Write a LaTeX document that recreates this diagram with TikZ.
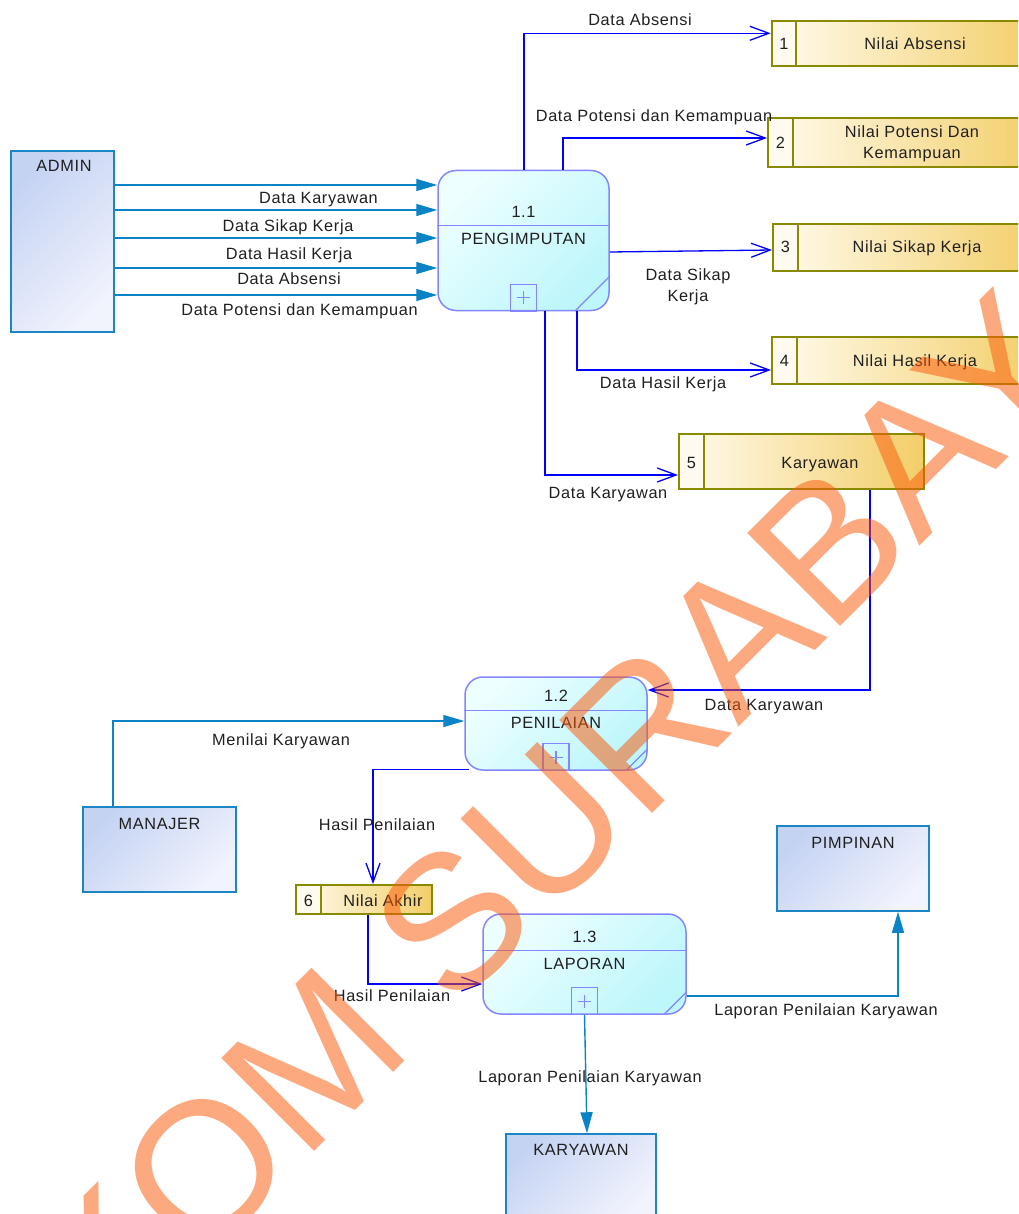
\documentclass[tikz,border=0pt]{standalone}
\usepackage{fontspec}
\setmainfont{Liberation Sans}
\newfontfamily\dfdfont[LetterSpace=4]{Liberation Sans}
\usetikzlibrary{arrows.meta,calc}

\definecolor{entline}{HTML}{1C86C4}
\definecolor{entA}{HTML}{C5D3F3}
\definecolor{entB}{HTML}{F1F3FD}
\definecolor{procline}{HTML}{8585FF}
\definecolor{procA}{HTML}{EEFFFF}
\definecolor{procB}{HTML}{BDF6FB}
\definecolor{storeline}{HTML}{8A8A00}
\definecolor{storeA}{HTML}{FFFBEE}
\definecolor{storeB}{HTML}{F3CE68}
\definecolor{storecell}{HTML}{FFFAF0}
\definecolor{extflow}{HTML}{0A84C6}
\definecolor{dataflow}{HTML}{0000FF}
\definecolor{stampcol}{RGB}{250,90,10}

\tikzset{
  entity/.style={draw=entline, line width=1.5pt, top color=entA, bottom color=entB,
    shading angle=45, inner sep=0pt},
  process/.style={draw=procline, line width=1.5pt, rounded corners=18pt,
    top color=procA, bottom color=procB, shading angle=45, inner sep=0pt},
  procin/.style={draw=procline, line width=1.3pt},
  store/.style={draw=storeline, line width=2pt, left color=storeA, right color=storeB,
    inner sep=0pt,
    path picture={
      \fill[storecell] (path picture bounding box.north west)
        rectangle ([xshift=#1]path picture bounding box.south west);
      \draw[storeline, line width=2pt] ([xshift=#1]path picture bounding box.north west)
        -- ([xshift=#1]path picture bounding box.south west);}},
  txt/.style={font=\dfdfont\fontsize{16.3}{21}\selectfont, text=black!88, inner sep=0pt,
    text height=11.5pt, text depth=3.5pt},
  txtml/.style={font=\dfdfont\fontsize{16.3}{21}\selectfont, text=black!88, inner sep=0pt,
    align=center},
  ext/.style={draw=extflow, line width=1.4pt, -{Triangle[length=21pt,width=12pt]}},
  flow/.style={draw=dataflow, line width=1.3pt, -{Straight Barb[length=19pt,width=14pt]}},
}

% divider, number, title, "+" box and corner cut of a process
\newcommand{\procdetails}[6]{%
  \draw[procin] ([yshift=-#2pt]#1.north west) -- ([yshift=-#2pt]#1.north east);
  \node[txt] (#1-num) at ([yshift=-#3pt]#1.north) {#4};
  \node[txt] (#1-title) at ([yshift=-#3pt-27pt]#1.north) {#5};
  \draw[procin] ([xshift=-13pt]#1.south) rectangle ([xshift=13pt,yshift=27pt]#1.south);
  \draw[procin] ([xshift=-6.5pt,yshift=13.5pt]#1.south) -- ([xshift=6.5pt,yshift=13.5pt]#1.south);
  \draw[procin] ([yshift=7pt]#1.south) -- ([yshift=20pt]#1.south);
  \draw[procin] ([xshift=-#6pt]#1.south east) -- ([yshift=#6pt]#1.south east);
}

\begin{document}
\begin{tikzpicture}[x=1pt,y=-1pt]
\useasboundingbox (0,0) rectangle (1018,1214);
\clip (0,0) rectangle (1018,1214);

% external entities
\node[entity, minimum width=103pt, minimum height=181pt] (admin) at (62.5,241.5) {};
\node[txt] (admin-t) at (64,168) {ADMIN};
\node[entity, minimum width=153pt, minimum height=85pt] (manajer) at (159.5,849.5) {};
\node[txt] (manajer-t) at (159.5,825) {MANAJER};
\node[entity, minimum width=152pt, minimum height=85pt] (pimpinan) at (853,868.5) {};
\node[txt] (pimpinan-t) at (853,844) {PIMPINAN};
\node[entity, minimum width=150pt, minimum height=86pt] (karyawan) at (581,1177) {};
\node[txt] (karyawan-t) at (581,1151) {KARYAWAN};

% processes
\node[process, minimum width=171pt, minimum height=140pt] (p11) at (523.5,240.5) {};
\procdetails{p11}{56}{43.5}{1.1}{PENGIMPUTAN}{35}
\node[process, minimum width=182pt, minimum height=93pt] (p12) at (556,723.5) {};
\procdetails{p12}{34}{21}{1.2}{PENILAIAN}{22}
\node[process, minimum width=203pt, minimum height=100pt] (p13) at (584.5,964) {};
\procdetails{p13}{37}{25}{1.3}{LAPORAN}{23}

% data stores
\node[store=24.3pt, minimum width=268.3pt, minimum height=45pt] (s1) at (905.85,43.5) {};
\node[txt] (s1-n) at (784,45.5) {1};
\node[txt] (s1-t) at (915,45.5) {Nilai Absensi};
\node[store=25pt, minimum width=272pt, minimum height=49pt] (s2) at (904,142.5) {};
\node[txt] (s2-n) at (780.5,144.5) {2};
\node[txtml] (s2-t) at (912,143.5) {Nilai Potensi Dan\\Kemampuan};
\node[store=25pt, minimum width=267pt, minimum height=47pt] (s3) at (906.5,247.5) {};
\node[txt] (s3-n) at (785.5,249) {3};
\node[txt] (s3-t) at (917,249) {Nilai Sikap Kerja};
\node[store=25pt, minimum width=268pt, minimum height=47pt] (s4) at (906,360.5) {};
\node[txt] (s4-n) at (784.5,362) {4};
\node[txt] (s4-t) at (915,362) {Nilai Hasil Kerja};
\node[store=25pt, minimum width=245pt, minimum height=55pt] (s5) at (801.5,461.5) {};
\node[txt] (s5-n) at (691.5,464) {5};
\node[txt] (s5-t) at (820,464) {Karyawan};
\node[store=25pt, minimum width=136pt, minimum height=29pt] (s6) at (364,899.5) {};
\node[txt] (s6-n) at (308.5,902) {6};
\node[txt] (s6-t) at (383,902) {Nilai Akhir};

% ADMIN inputs to 1.1
\draw[ext] ([yshift=56.5pt]admin.east) -- ([yshift=55.5pt]p11.west);
\draw[ext] ([yshift=31.5pt]admin.east) -- ([yshift=30.5pt]p11.west);
\draw[ext] ([yshift=3.5pt]admin.east) -- ([yshift=2.5pt]p11.west);
\draw[ext] ([yshift=-26.5pt]admin.east) -- ([yshift=-27.5pt]p11.west);
\draw[ext] ([yshift=-53.5pt]admin.east) -- ([yshift=-54.5pt]p11.west);
\node[txt] (l1) at (318.5,200) {Data Karyawan};
\node[txt] (l2) at (288,228) {Data Sikap Kerja};
\node[txt] (l3) at (289,256) {Data Hasil Kerja};
\node[txt] (l4) at (289,281) {Data Absensi};
\node[txt] (l5) at (299.5,311) {Data Potensi dan Kemampuan};

% 1.1 outputs to the stores
\draw[flow] ([xshift=0.5pt]p11.north) |- ([yshift=10.2pt]s1.west);
\node[txt] (l6) at (640,22) {Data Absensi};
\draw[flow] ([xshift=39.5pt]p11.north) |- ([yshift=4.5pt]s2.west);
\node[txt] (l7) at (654,118) {Data Potensi dan Kemampuan};
\draw[flow] ([yshift=-11.5pt]p11.east) -- ([yshift=-2.5pt]s3.west);
\node[txtml] (l8) at (688,287) {Data Sikap\\Kerja};
\draw[flow] ([xshift=53.5pt]p11.south) |- ([yshift=-9.5pt]s4.west);
\node[txt] (l9) at (663,384) {Data Hasil Kerja};
\draw[flow] ([xshift=21.5pt]p11.south) |- ([yshift=-13.5pt]s5.west);
\node[txt] (l10) at (608,494) {Data Karyawan};

% penilaian
\draw[flow] ([xshift=68.5pt]s5.south) |- ([yshift=33.5pt]p12.east);
\node[txt] (l11) at (764,706) {Data Karyawan};
\draw[ext] ([xshift=-46.5pt]manajer.north) |- ([yshift=2.5pt]p12.west);
\node[txt] (l12) at (281,741) {Menilai Karyawan};
\draw[flow] ([xshift=5pt,yshift=1pt]p12.south west) -| ([xshift=9pt]s6.north);
\node[txt] (l13) at (377,826) {Hasil Penilaian};

% laporan
\draw[flow] ([xshift=4pt]s6.south) |- ([yshift=-20pt]p13.west);
\node[txt] (l14) at (392,997) {Hasil Penilaian};
\draw[ext] ([yshift=-32pt]p13.east) -| ([xshift=45pt]pimpinan.south);
\node[txt] (l15) at (826,1011) {Laporan Penilaian Karyawan};
\draw[ext] (p13.south) -- ([xshift=6pt]karyawan.north);
\node[txt] (l16) at (590,1078) {Laporan Penilaian Karyawan};

% stamp across the sheet
\node[rotate=45, anchor=base, inner sep=0pt, text=stampcol, text opacity=0.52,
  font=\fontsize{191}{191}\selectfont] (stamp) at (534,932) {STIKOM SURABAYA};
\end{tikzpicture}
\end{document}
